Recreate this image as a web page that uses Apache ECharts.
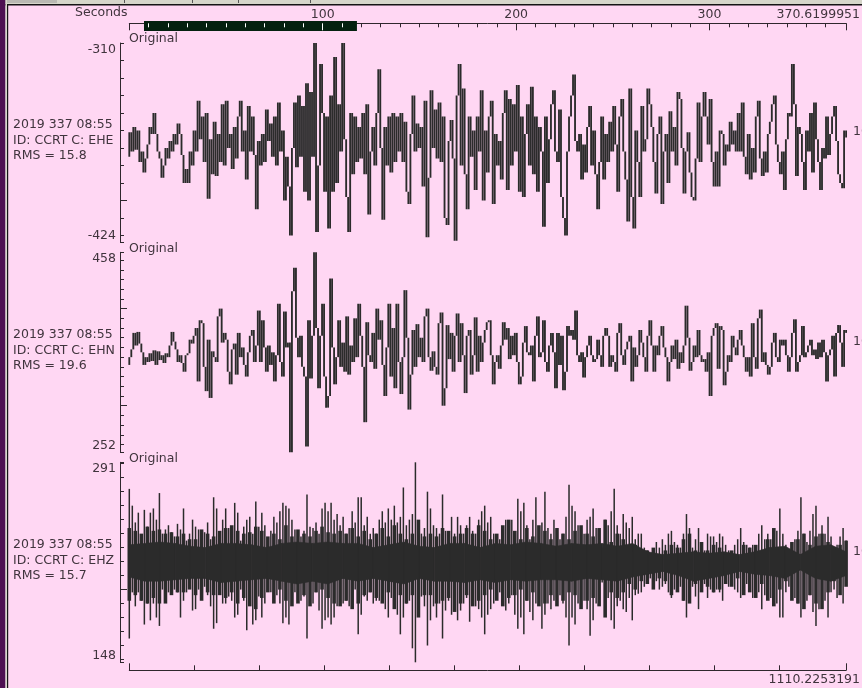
<!DOCTYPE html>
<html>
<head>
<meta charset="utf-8">
<style>html,body{margin:0;padding:0;background:#ffd7f3;overflow:hidden}#c{width:862px;height:688px}</style>
<script src="https://cdn.jsdelivr.net/npm/echarts@6/dist/echarts.min.js"></script>
</head>
<body>
<div id="c"></div>
<script>
const durationSeconds = 370.6199951;
const sampleEnd = 1102.8;
const selectionSeconds = [7.6, 117.7];
const ehe = [
-375,-361,-372,-358,-371,-360,-378,-372,-384,-376,
-368,-358,-362,-350,-362,-372,-376,-387,-380,-370,
-376,-366,-372,-362,-368,-356,-362,-374,-390,-382,
-390,-372,-380,-360,-372,-343,-365,-352,-378,-350,
-399,-365,-385,-355,-386,-362,-378,-345,-380,-343,
-370,-362,-382,-358,-376,-352,-343,-372,-360,-388,
-346,-372,-352,-374,-405,-366,-380,-362,-378,-348,
-366,-356,-375,-352,-380,-344,-372,-360,-400,-375,
-392,-420,-370,-344,-381,-340,-375,-346,-395,-333,
-400,-338,-375,-310,-418,-380,-322,-350,-395,-352,
-416,-340,-395,-318,-390,-345,-372,-310,-365,-398,
-418,-350,-385,-352,-378,-358,-376,-350,-385,-345,
-408,-372,-358,-380,-350,-325,-370,-411,-358,-380,
-352,-384,-350,-378,-352,-372,-350,-378,-355,-395,
-402,-362,-340,-372,-356,-370,-358,-392,-343,-421,
-387,-337,-370,-348,-376,-344,-378,-352,-410,-414,
-366,-354,-376,-423,-340,-322,-380,-336,-385,-405,
-352,-375,-360,-394,-352,-372,-337,-400,-360,-384,
-352,-343,-402,-362,-380,-366,-388,-350,-337,-394,
-342,-380,-345,-372,-334,-395,-352,-398,-362,-345,
-380,-335,-385,-352,-395,-358,-372,-415,-352,-390,
-365,-345,-337,-372,-378,-348,-398,-410,-420,-372,
-352,-340,-328,-366,-372,-362,-388,-368,-384,-358,
-346,-380,-360,-385,-405,-378,-352,-388,-362,-378,
-355,-372,-346,-368,-395,-352,-342,-372,-388,-412,
-336,-398,-416,-360,-378,-398,-346,-372,-365,-336,
-345,-358,-378,-396,-362,-352,-402,-372,-362,-390,
-349,-372,-358,-380,-338,-342,-370,-396,-372,-361,
-384,-398,-400,-376,-344,-378,-352,-338,-352,-368,
-342,-378,-392,-372,-392,-360,-362,-380,-368,-372,
-355,-368,-360,-372,-350,-372,-344,-375,-385,-362,
-388,-370,-384,-352,-343,-376,-386,-372,-384,-362,
-355,-345,-340,-368,-378,-385,-372,-394,-365,-350,
-352,-322,-345,-386,-358,-362,-378,-394,-360,-372,
-350,-384,-344,-365,-378,-394,-370,-376,-352,-374,
-362,-352,-346,-366,-385,-390,-393,-360,-364
];
const ehn = [
342,350,358,375,362,376,364,355,342,350,
345,354,346,357,342,356,347,352,344,354,
350,362,376,366,358,345,352,344,335,352,
354,368,364,372,380,325,388,385,340,315,
368,308,356,350,345,392,400,365,375,368,
335,322,358,364,332,375,350,360,342,330,
355,372,378,345,362,398,345,388,360,335,
362,342,355,325,352,405,345,330,397,360,
365,252,418,442,370,350,372,340,330,258,
388,328,372,458,380,318,372,405,330,298,
310,431,360,322,350,388,340,365,335,392,
332,362,345,390,350,405,372,340,283,386,
352,345,375,338,400,368,388,342,310,360,
405,330,380,318,405,345,312,350,419,370,
296,332,378,340,384,350,370,345,392,400,
350,336,356,340,332,385,396,300,318,383,
348,375,335,372,395,345,385,352,313,372,
378,332,352,391,335,372,345,365,378,386,
388,352,322,345,352,338,362,386,368,380,
348,372,352,375,345,322,330,365,382,355,
352,362,325,372,392,350,355,388,345,335,
362,375,355,318,375,342,372,316,335,382,
372,378,368,398,352,345,355,329,350,362,
372,352,345,348,368,352,340,372,380,372,
340,352,345,335,375,385,352,342,358,366,
372,325,360,340,352,378,365,350,335,372,
388,362,335,362,352,372,382,360,350,325,
345,362,348,368,338,355,344,362,403,370,
336,345,362,350,378,352,345,348,335,355,
310,372,380,385,338,382,378,321,335,352,
345,372,360,352,368,378,362,350,335,350,
330,385,350,338,390,399,345,355,342,332,
340,365,375,350,345,368,362,368,352,335,
350,375,389,335,345,352,382,350,355,362,
368,352,358,348,365,350,368,355,325,352,
358,372,330,375,383,365,340,378,375
];
const ehzHigh = [
272,260,248,255,236,257,245,255,258,250,
269,240,243,246,241,238,247,243,258,235,
240,250,245,243,235,241,248,236,266,258,
240,250,258,244,240,262,255,235,245,250,
252,240,263,245,255,246,236,242,252,248,
256,262,260,258,250,243,240,238,242,268,
245,244,248,240,258,262,256,262,250,254,
246,252,240,244,256,248,266,266,246,252,
240,244,240,250,256,248,258,250,260,248,
252,273,246,250,254,291,238,240,244,270,
258,246,244,240,268,242,240,252,240,252,
246,240,246,252,242,240,250,256,260,248,
252,240,238,236,244,250,244,250,240,265,
256,262,246,236,250,266,244,248,270,244,
240,250,244,236,240,252,275,260,256,246,
244,240,250,252,258,244,240,230,250,246,
256,272,246,240,254,248,244,252,236,240,
240,230,228,224,228,234,230,236,232,240,
242,234,232,230,240,254,244,230,236,244,
232,228,240,238,238,234,240,238,232,228,
224,232,236,244,234,232,230,232,226,240,
246,236,240,236,238,242,258,240,232,226,
230,236,242,266,240,234,242,254,260,240,
246,240,252,238,228,232,238,244,235
];
const ehzLow = [
165,198,188,198,192,175,190,178,190,180,
174,200,202,198,200,200,198,180,192,198,
203,185,186,200,198,202,196,188,172,176,
198,190,190,195,192,180,182,200,192,171,
194,175,178,195,180,190,202,198,192,196,
190,176,180,175,190,198,196,192,195,165,
194,190,198,185,172,178,180,175,180,188,
196,190,192,188,192,200,168,182,195,192,
198,190,192,192,198,186,180,194,190,182,
168,180,190,192,158,148,196,195,188,160,
178,188,180,190,165,185,192,182,188,178,
185,190,194,177,192,188,186,180,168,182,
186,190,194,198,192,185,190,196,182,172,
180,168,192,184,178,190,198,172,182,190,
186,192,200,196,190,180,160,180,175,190,
198,192,186,167,178,190,200,205,188,194,
178,172,188,192,186,184,194,178,196,197,
198,202,204,208,204,206,200,202,204,198,
194,200,204,202,192,180,198,202,195,186,
200,204,194,200,198,200,198,192,205,202,
204,200,198,194,204,204,206,194,200,198,
186,196,196,194,190,190,180,180,198,202,
200,194,190,180,190,192,196,184,174,186,
190,192,180,198,200,194,198,190,206
];
const ehzMidHigh = [
244,242,240,245,242,243,240,241,238,240,236,236,243,240,238,242,244,246,242,240,
241,245,242,238,240,236,246,238,243,240,238,242,245,241,240,242,240,244,238,242,
236,240,244,238,246,240,236,240,250,238,
240,238,244,242,238,240,244,240,246,242,236,240,246,250,242,236,244,238,246,242,
236,244,240,236,242,246,240,238,244,250,234,240,236,230,232,226,228,230,225,228,
232,230,236,240,228,234,228,232,230,226,228,224,232,230,232,226,236,244,230,226,
234,236,240,232,238,240,234,226,232,235
];
const ehzMidLow = [
192,196,192,190,194,190,190,196,198,198,200,196,192,198,196,196,194,198,190,194,
188,186,194,198,190,200,192,188,190,196,188,198,200,194,190,188,192,186,190,196,
198,194,190,198,186,196,190,196,180,196,
196,190,192,194,184,190,196,188,192,196,200,192,188,194,196,200,192,198,188,190,
196,188,192,198,196,186,192,194,188,180,198,194,198,204,200,206,204,200,208,206,
196,198,192,190,204,198,202,198,200,204,202,208,196,198,194,204,192,188,200,206,
192,190,186,196,190,186,198,206,196,202
];
const ehzCoreHigh = [
232,233,234,233,231,230,233,233,232,230,233,234,233,234,233,233,230,232,234,231,
230,233,233,230,233,232,234,233,231,233,232,233,231,233,227,225,226,227,226,227,225,227,230,231,225,231,232,227
];
const ehzCoreLow = [
209,206,206,207,208,208,205,206,207,208,206,204,206,204,208,206,208,206,204,208,
206,206,205,207,205,207,206,207,207,206,208,207,206,209,211,213,210,206,208,210,213,211,210,208,214,208,206,210
];
const eheTicks = [-310,-320,-330,-340,-350,-360,-370,-380,-390,-410,-420,-424];
const ehnTicks = [458,450,440,430,420,410,390,380,370,360,350,340,330,320,310,290,280,270,260,252];
const ehzTicks = [291,290,280,270,260,250,240,230,220,210,190,180,170,160,150,148];
const secondsMinor = [120,130,140,150,160,170,180,190,210,220,230,240,250,260,270,280,290,310,320,330,340,350,360];
const secondsMinorInBar = [10,20,30,40,50,60,70,80,90,110];
const secondsMajor = [0,200,300,durationSeconds];
const secondsLabels = [100,200,300];
const sampleTicks = [100,200,300,400,500,600,700,800,900,1000];
const panels = [
  {name:'EHE', rms:'15.8', min:-424, max:-310, ticks:eheTicks, longTicks:[-400], top:43, h:199.5, label:[-310,-424], right:'100', orig:39, info:[124.5,140.5,155.7], rightY:132},
  {name:'EHN', rms:'19.6', min:252, max:458, ticks:ehnTicks, longTicks:[400,300], top:252.3, h:200, label:[458,252], right:'100', orig:249, info:[334.5,350.7,365.7], rightY:342},
  {name:'EHZ', rms:'15.7', min:148, max:291, ticks:ehzTicks, longTicks:[200], top:462.3, h:200, label:[291,148], right:'100', orig:459, info:[544.5,560.7,575.7], rightY:552}
];
const FONT = '"DejaVu Sans"', INK = '#40343d', TRACE = '#2b2b2b', LEFT = 129.3, W = 716.8;
const txt = {color:INK, fontFamily:FONT, fontSize:12.5};
const axisInk = {color:'#2f272d', width:1};
const grids = [{left:LEFT, top:21, width:W, height:10}];
const xAxes = [], yAxes = [{gridIndex:0, type:'value', min:0, max:1, show:false}], series = [];
function topAxis(values, len, color, z, labels){
  xAxes.push({gridIndex:0, type:'value', position:'top', offset:-2.3, min:0, max:durationSeconds, z:z,
    axisLine:{show:labels ? true : false, onZero:false, lineStyle:axisInk},
    axisTick:{show:true, inside:true, length:len, customValues:values, lineStyle:{color:color,width:1}},
    axisLabel:labels ? {show:true, customValues:labels, margin:2, ...txt} : {show:false},
    splitLine:{show:false}});
}
topAxis(secondsMajor, 7, axisInk.color, 0, secondsLabels);
topAxis(secondsMinor, 4, axisInk.color, 0);
topAxis(secondsMinorInBar, 4, '#ffffff', 5);
topAxis([100], 7, '#ffffff', 5);
series.push({type:'line', xAxisIndex:0, yAxisIndex:0, data:[], z:2, silent:true,
  markArea:{silent:true, itemStyle:{color:'#04200f', opacity:1},
    data:[[{xAxis:selectionSeconds[0]},{xAxis:selectionSeconds[1]}]]}});
// each column: a vertical stroke between two readings at one time position
function strokes(lineWidth){
  return function(params, api){
    const a = api.coord([api.value(0), api.value(1)]);
    const b = api.coord([api.value(0), api.value(2)]);
    return {type:'line', shape:{x1:a[0], y1:a[1], x2:b[0], y2:b[1]}, style:{stroke:TRACE, lineWidth:lineWidth, fill:null}, silent:true};
  };
}
// solid core band of the EHZ trace: one quad between neighbouring envelope readings
function band(params, api){
  const pts = [
    api.coord([api.value(0), api.value(1)]),
    api.coord([api.value(3), api.value(4)]),
    api.coord([api.value(3), api.value(5)]),
    api.coord([api.value(0), api.value(2)])
  ];
  return {type:'polygon', shape:{points:pts}, style:{fill:TRACE, stroke:TRACE, lineWidth:0.6}, silent:true};
}
const consecutive = arr => arr.slice(0,-1).map((v,k)=>[k/(arr.length-2)*durationSeconds, v, arr[k+1]]);
const paired = (hi,lo) => hi.map((v,k)=>[k/(hi.length-1)*durationSeconds, v, lo[k]]);
const quads = (hi,lo) => hi.slice(0,-1).map((v,k)=>[k/(hi.length-1)*durationSeconds, v, lo[k], (k+1)/(hi.length-1)*durationSeconds, hi[k+1], lo[k+1]]);
panels.forEach((p,i)=>{
  const g = i+1;
  grids.push({left:LEFT, top:p.top, width:W, height:p.h});
  const xi = xAxes.length;
  xAxes.push({gridIndex:g, type:'value', min:0, max:durationSeconds, show:false});
  const yi = yAxes.length;
  yAxes.push({gridIndex:g, type:'value', min:p.min, max:p.max, position:'left', offset:9.3,
    axisLine:{show:true, onZero:false, lineStyle:axisInk},
    axisTick:{show:true, inside:true, length:4, customValues:p.ticks, lineStyle:axisInk},
    axisLabel:{show:true, customValues:p.label, margin:4, verticalAlignMaxLabel:'bottom', verticalAlignMinLabel:'top', ...txt},
    splitLine:{show:false}});
  yAxes.push({gridIndex:g, type:'value', min:p.min, max:p.max, position:'left', offset:9.3,
    axisLine:{show:false, onZero:false},
    axisTick:{show:true, inside:true, length:7, customValues:p.longTicks, lineStyle:axisInk},
    axisLabel:{show:false}, splitLine:{show:false}});
  const common = {type:'custom', name:p.name, xAxisIndex:xi, yAxisIndex:yi, z:3, silent:true, clip:false, encode:{x:0, y:[1,2]}};
  if (i < 2) {
    series.push({...common, renderItem:strokes(1.85), data:consecutive(i===0?ehe:ehn)});
  } else {
    series.push({...common, renderItem:strokes(1.5), data:paired(ehzHigh,ehzLow)});
    series.push({...common, renderItem:strokes(3.6), data:paired(ehzMidHigh,ehzMidLow)});
    series.push({...common, renderItem:band, data:quads(ehzCoreHigh,ehzCoreLow)});
  }
});
xAxes.push({gridIndex:3, type:'value', position:'bottom', offset:8, min:0, max:sampleEnd,
  axisLine:{show:true, onZero:false, lineStyle:axisInk},
  axisTick:{show:true, inside:true, length:5, customValues:sampleTicks, lineStyle:axisInk},
  axisLabel:{show:false}, splitLine:{show:false}});
xAxes.push({gridIndex:3, type:'value', position:'bottom', offset:8, min:0, max:sampleEnd,
  axisLine:{show:false, onZero:false},
  axisTick:{show:true, inside:true, length:7, customValues:[0,sampleEnd], lineStyle:axisInk},
  axisLabel:{show:false}, splitLine:{show:false}});
const text = (t,x,y,align='left')=>({type:'text', x:x, y:y, z:10, style:{text:t, x:0, y:0, fill:INK, font:'12.5px "DejaVu Sans"', textAlign:align, textVerticalAlign:'middle'}});
const rect = (x,y,w,h,c)=>({type:'rect', z:-1, shape:{x:x,y:y,width:w,height:h}, style:{fill:c}, silent:true});
const graphics = [
  rect(0,0,862,4,'#d6d6ca'),
  rect(0,0,57,3,'#b9b9b2'), rect(124,0,1,3,'#555'), rect(192,0,1,3,'#555'), rect(238,0,1,3,'#555'), rect(310,0,1,3,'#555'),
  rect(0,4,862,1.5,'#141414'),
  rect(0,0,5.5,688,'#4d1052'), rect(5.5,0,1.5,688,'#d6d6ca'), rect(7,4,1.2,684,'#141414'),
  text('Seconds',75,13),
  text(durationSeconds.toFixed(7),860,14.5,'right'),
  text('1110.2253191',860,679.5,'right')
];
panels.forEach(p=>{
  graphics.push(text('Original',129,p.orig));
  graphics.push(text('2019 337 08:55',13,p.info[0]));
  graphics.push(text('ID: CCRT C: '+p.name,13,p.info[1]));
  graphics.push(text('RMS = '+p.rms,13,p.info[2]));
  graphics.push(text(p.right,853,p.rightY));
});
const chart = echarts.init(document.getElementById('c'), null, {renderer:'canvas', width:862, height:688});
chart.setOption({
  animation:false, backgroundColor:'#ffd7f3', tooltip:{show:false}, legend:{show:false},
  grid:grids, xAxis:xAxes, yAxis:yAxes, series:series, graphic:{elements:graphics}
});
</script>
</body>
</html>
